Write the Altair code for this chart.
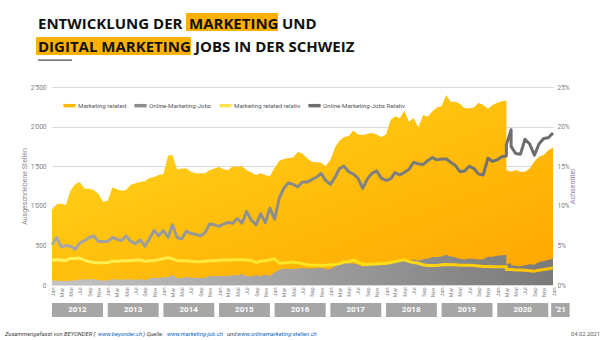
import altair as alt
import pandas as pd

# ---------------- data ----------------
# monthly dates; March and April 2020 appear twice (source change in the data)
month_dates = []
for yy in range(2012, 2021):
    for mm in range(1, 13):
        month_dates.append(f"{yy}-{mm:02d}-01")
        if yy == 2020 and mm in (3, 4):
            month_dates.append(f"{yy}-{mm:02d}-01")
month_dates.append("2021-01-01")

marketing_related = [
    950, 1020, 1030, 1010, 1190, 1275, 1300, 1220, 1215, 1200, 1150, 1050,   # 2012
    1065, 1235, 1210, 1190, 1200, 1265, 1285, 1300, 1310, 1350, 1365, 1390,  # 2013
    1400, 1635, 1640, 1460, 1470, 1470, 1430, 1410, 1410, 1410, 1450, 1470,  # 2014
    1490, 1460, 1450, 1500, 1490, 1500, 1450, 1420, 1390, 1410, 1390, 1370,  # 2015
    1480, 1570, 1590, 1605, 1610, 1680, 1660, 1600, 1555, 1550, 1545, 1500,  # 2016
    1580, 1740, 1820, 1870, 1880, 1950, 1900, 1895, 1910, 1920, 1900, 1870,  # 2017
    1900, 2085, 2130, 2105, 2200, 2060, 2110, 1990, 2146, 2125, 2190, 2240,  # 2018
    2260, 2400, 2315, 2315, 2290, 2231, 2231, 2240, 2300, 2273, 2225, 2273,  # 2019
    2300, 2320, 2330, 1450, 1431, 1431, 1452, 1431, 1431, 1470, 1560, 1620, 1641, 1700,  # 2020
    1735,                                                                     # 2021
]

online_marketing = [
    55, 58, 52, 52, 58, 58, 68, 68, 72, 74, 64, 57,            # 2012
    58, 74, 70, 66, 74, 70, 67, 74, 64, 79, 94, 86,            # 2013
    97, 98, 125, 88, 85, 100, 93, 90, 87, 92, 113, 109,        # 2014
    113, 115, 113, 126, 119, 140, 113, 108, 125, 110, 134, 112,  # 2015
    160, 191, 205, 202, 203, 208, 216, 208, 207, 211, 218, 198,  # 2016
    201, 237, 268, 278, 275, 273, 258, 229, 254, 271, 274, 254,  # 2017
    251, 279, 302, 295, 308, 301, 325, 306, 326, 334, 353, 354,  # 2018
    359, 382, 359, 350, 328, 321, 335, 329, 322, 325, 356, 357,  # 2019
    368, 376, 380, 257, 280, 252, 241, 236, 250, 262, 256, 290, 304, 316,  # 2020
    332,                                                         # 2021
]

marketing_related_rel = [
    3.15, 3.2, 3.15, 3.1, 3.35, 3.35, 3.4, 3.15, 2.95, 2.85, 2.8, 2.8,     # 2012
    2.85, 3.0, 3.0, 3.05, 3.05, 3.1, 3.15, 3.15, 3.0, 3.05, 3.1, 3.2,     # 2013
    3.35, 3.45, 3.3, 3.1, 3.05, 3.05, 3.0, 2.95, 2.95, 3.0, 3.05, 3.1,    # 2014
    3.1, 3.15, 3.15, 3.2, 3.2, 3.2, 3.15, 3.1, 2.85, 3.0, 3.05, 3.2,      # 2015
    3.3, 2.75, 2.8, 2.85, 2.9, 2.8, 2.7, 2.55, 2.5, 2.5, 2.5, 2.45,       # 2016
    2.55, 2.6, 2.7, 2.9, 2.95, 3.15, 2.9, 2.65, 2.6, 2.65, 2.65, 2.7,     # 2017
    2.75, 2.85, 2.95, 3.1, 3.2, 2.95, 2.85, 2.75, 2.55, 2.45, 2.45, 2.45, # 2018
    2.55, 2.6, 2.55, 2.55, 2.5, 2.5, 2.5, 2.45, 2.4, 2.35, 2.35, 2.3,     # 2019
    2.3, 2.3, 2.3, 1.95, 1.95, 1.95, 1.9, 1.9, 1.85, 1.8, 1.75, 1.85, 1.95, 2.05,  # 2020
    2.15,                                                                  # 2021
]

online_marketing_rel = [
    5.1, 6.0, 4.8, 5.0, 4.9, 4.5, 5.3, 5.6, 6.0, 6.2, 5.5, 5.5,           # 2012
    5.5, 6.0, 5.8, 5.6, 6.2, 5.5, 5.2, 5.7, 4.9, 5.8, 6.9, 6.2,           # 2013
    6.9, 6.0, 7.6, 6.0, 5.8, 6.8, 6.5, 6.4, 6.2, 6.6, 7.7, 7.6,           # 2014
    7.4, 7.7, 7.9, 7.8, 8.4, 7.8, 9.3, 8.2, 7.6, 9.0, 7.9, 9.7,           # 2015
    8.3, 11.0, 12.2, 12.9, 12.7, 12.4, 13.0, 13.0, 13.3, 13.6, 14.1, 13.2,  # 2016
    12.7, 13.6, 14.7, 15.0, 14.3, 14.0, 13.5, 12.2, 13.4, 14.1, 14.4, 13.5,  # 2017
    13.2, 13.4, 14.2, 13.9, 14.2, 14.6, 15.5, 15.3, 15.2, 15.7, 16.1, 15.8,  # 2018
    15.9, 15.9, 15.5, 15.1, 14.3, 14.4, 15.0, 14.7, 14.0, 13.9, 16.0, 15.6,  # 2019
    15.8, 16.2, 16.3, 17.7, 19.6, 17.5, 16.6, 16.5, 18.4, 17.8, 16.4, 17.8, 18.5, 18.6,  # 2020
    19.2,                                                                    # 2021
]

series_names = ["Marketing related", "Online-Marketing-Jobs",
                "Marketing related relativ", "Online-Marketing-Jobs Relativ"]
series_colors = ["#FFB800", "#8C8C8C", "#FFE34D", "#6E6E6E"]

year_labels = ["2012", "2013", "2014", "2015", "2016", "2017", "2018", "2019", "2020", "'21"]
year_starts = ["2012-01-01", "2013-01-01", "2014-01-01", "2015-01-01", "2016-01-01",
               "2017-01-01", "2018-01-01", "2019-01-01", "2020-01-01", "2020-12-20"]
year_ends = ["2012-12-01", "2013-12-01", "2014-12-01", "2015-12-01", "2016-12-01",
             "2017-12-01", "2018-12-01", "2019-12-01", "2020-12-01", "2021-04-20"]
year_mids = ["2012-06-16", "2013-06-16", "2014-06-16", "2015-06-16", "2016-06-16",
             "2017-06-16", "2018-06-16", "2019-06-16", "2020-06-16", "2021-02-20"]

# ---------------- layout ----------------
W, H = 501, 198
PL, PT = 52, 87          # plot origin in the page
FONT = "Roboto"
TFONT = "Open Sans"

df = pd.DataFrame({
    "date": month_dates,
    "seq": list(range(len(month_dates))),
    "mr": marketing_related,
    "om": online_marketing,
    "mrr": marketing_related_rel,
    "omr": online_marketing_rel,
})

x_scale = alt.Scale(type="utc", nice=False,
                    domain=[alt.DateTime(year=2012, month=1, date=1, utc=True),
                            alt.DateTime(year=2021, month=1, date=1, utc=True)])
x_axis = alt.Axis(title=None, tickCount={"interval": "month", "step": 2},
                  labelExpr="replace(utcFormat(datum.value, '%b'), 'May', 'Mai')",
                  labelAngle=270, labelFontSize=5.5, labelColor="#7F7F7F", labelFont=FONT,
                  domain=False, ticks=False, grid=False, labelPadding=2, labelOverlap=False)

left_scale = alt.Scale(domain=[0, 2500], nice=False)
right_scale = alt.Scale(domain=[0, 25], nice=False)

orange_grad = alt.Gradient(gradient="linear", x1=0, y1=0, x2=1, y2=1,
                           stops=[alt.GradientStop(color="#FFDA22", offset=0),
                                  alt.GradientStop(color="#FFC10E", offset=0.45),
                                  alt.GradientStop(color="#FFA500", offset=1)])
gray_grad = alt.Gradient(gradient="linear", x1=0, y1=0, x2=1, y2=0,
                         stops=[alt.GradientStop(color="#C4C4C4", offset=0),
                                alt.GradientStop(color="#7A7A7A", offset=1)])
yellow_grad = alt.Gradient(gradient="linear", x1=0, y1=0, x2=1, y2=0,
                           stops=[alt.GradientStop(color="#FFF25E", offset=0),
                                  alt.GradientStop(color="#FFE21A", offset=0.6),
                                  alt.GradientStop(color="#FFC000", offset=1)])
gline_grad = alt.Gradient(gradient="linear", x1=0, y1=0, x2=1, y2=0,
                          stops=[alt.GradientStop(color="#A8A8A8", offset=0),
                                 alt.GradientStop(color="#6A6A6A", offset=1)])

base = alt.Chart(df)

orange_area = base.mark_area(color=orange_grad).encode(
    x=alt.X("date:T", scale=x_scale, axis=x_axis),
    y=alt.Y("mr:Q", scale=left_scale, stack=None,
            axis=alt.Axis(title="Ausgeschriebene Stellen", values=[0, 500, 1000, 1500, 2000, 2500],
                          labelExpr="replace(format(datum.value, ','), ',', \"'\")",
                          grid=True, gridColor="#D9D9D9", gridWidth=1, domain=False, ticks=False,
                          labelFontSize=6.5, labelColor="#7F7F7F", labelFont=FONT, labelPadding=6,
                          titleFontSize=7, titleColor="#8C8C8C", titleFont=FONT,
                          titleFontWeight="normal", titlePadding=3)),
)
gray_area = base.mark_area(color=gray_grad).encode(
    x=alt.X("date:T", scale=x_scale),
    y=alt.Y("om:Q", scale=left_scale, stack=None, axis=None))

yellow_line = base.mark_line(color=yellow_grad, strokeWidth=3, strokeJoin="round").encode(
    x=alt.X("date:T", scale=x_scale),
    y=alt.Y("mrr:Q", scale=right_scale,
            axis=alt.Axis(orient="right", title="Achsentitel", values=[0, 5, 10, 15, 20, 25],
                          labelExpr="datum.value + '%'", grid=False, domain=False, ticks=False,
                          labelFontSize=6.5, labelColor="#7F7F7F", labelFont=FONT, labelPadding=4,
                          titleFontSize=7, titleColor="#8E7CAE", titleFont=FONT,
                          titleFontWeight="normal", titlePadding=6, titleAngle=270)),
    order="seq:Q",
)
gray_line = base.mark_line(color=gline_grad, strokeWidth=3, strokeJoin="round").encode(
    x=alt.X("date:T", scale=x_scale),
    y=alt.Y("omr:Q", scale=right_scale, axis=None), order="seq:Q")

# legend (own layer, invisible marks)
legend_df = pd.DataFrame({"series": series_names})
legend_layer = alt.Chart(legend_df).mark_point(filled=True, opacity=0).encode(
    x=alt.value(0), y=alt.value(0),
    color=alt.Color("series:N",
                    scale=alt.Scale(domain=series_names, range=series_colors),
                    legend=alt.Legend(orient="none", legendX=11, legendY=12, direction="horizontal",
                                      title=None, symbolType="M-1,-0.28H1V0.28H-1Z", symbolSize=150,
                                      symbolOpacity=1, symbolStrokeWidth=0, labelFontSize=6.2,
                                      labelColor="#595959", labelFont=FONT, labelOffset=2,
                                      columnPadding=7, padding=0)),
)

# year bands below the axis
bands_df = pd.DataFrame({"label": year_labels, "start": year_starts, "end": year_ends, "mid": year_mids})
band_rect = alt.Chart(bands_df).mark_rect(color="#A6A6A6").encode(
    x=alt.X("start:T", scale=x_scale), x2="end:T",
    y=alt.value(H + 18), y2=alt.value(H + 32))
band_text = alt.Chart(bands_df).mark_text(color="white", fontWeight="bold", fontSize=8,
                                          font=FONT, baseline="middle").encode(
    x=alt.X("mid:T", scale=x_scale), y=alt.value(H + 25), text="label:N")

one = pd.DataFrame({"a": [0]})


def box(x1, x2, y1, y2, color):
    return alt.Chart(one).mark_rect(color=color).encode(
        x=alt.value(x1 - PL), x2=alt.value(x2 - PL), y=alt.value(y1 - PT), y2=alt.value(y2 - PT))


def label(txt, x, y, **kw):
    return alt.Chart(one).mark_text(text=txt, **kw).encode(
        x=alt.value(x - PL), y=alt.value(y - PT))


title_kw = dict(align="left", baseline="alphabetic", fontSize=15, fontWeight="bold",
                font=TFONT, color="#111111")
decor = [
    box(186, 278, 13, 31, "#FFB100"),
    box(36, 191, 37, 55, "#FFB100"),
    label("ENTWICKLUNG DER", 38, 28.5, **title_kw),
    label("MARKETING", 189, 28.5, **title_kw),
    label("UND", 282, 28.5, **title_kw),
    label("DIGITAL MARKETING", 38, 52, **title_kw),
    label("JOBS IN DER SCHWEIZ", 195, 52, **title_kw),
    box(38, 72, 59.3, 61, "#7F7F7F"),
]

foot_kw = dict(align="left", baseline="alphabetic", fontSize=5.8, fontStyle="italic", font=FONT)
foot_parts = [
    ("Zusammengefasst von BEYONDER (", 5, "#404040"),
    ("www.beyonder.ch", 98, "#0563C1"),
    (")  Quelle:", 143, "#404040"),
    ("www.marketing-job.ch", 167, "#0563C1"),
    ("und", 227, "#404040"),
    ("www.onlinemarketing-stellen.ch", 237, "#0563C1"),
]
for txt, xx, col in foot_parts:
    decor.append(label(txt, xx, 335.5, color=col, **foot_kw))
decor.append(label("04.02.2021", 600, 335.5, align="right", baseline="alphabetic",
                   fontSize=5.8, font=FONT, color="#595959"))

chart = alt.layer(
    orange_area, gray_area, yellow_line, gray_line, legend_layer, band_rect, band_text, *decor
).resolve_scale(y="independent").properties(
    width=W, height=H,
    autosize=alt.AutoSizeParams(type="none"),
    padding={"left": PL, "top": PT, "right": 605 - PL - W, "bottom": 340 - PT - H},
    background="white",
).configure_view(stroke=None)

chart.save("out.html", embed_options={"renderer": "svg", "actions": False})
